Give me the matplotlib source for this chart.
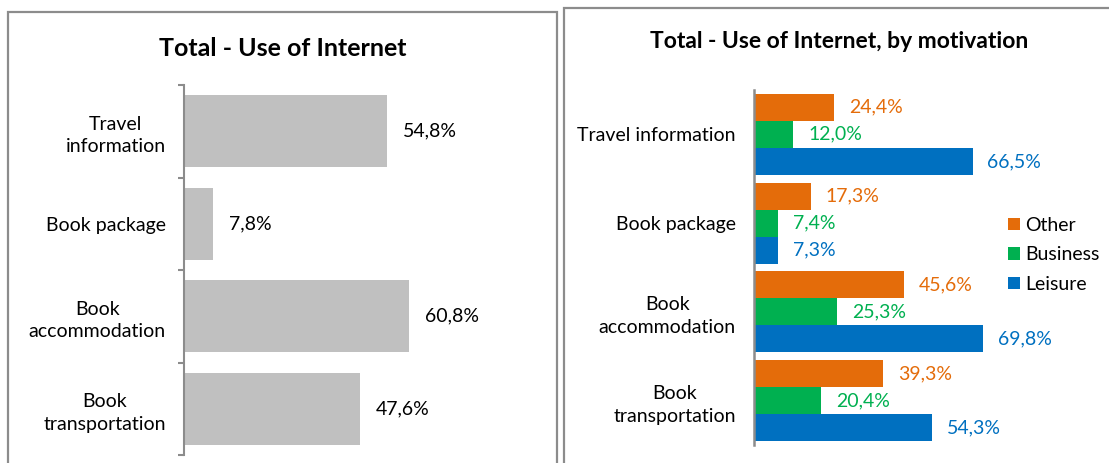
import matplotlib.pyplot as plt
from matplotlib.patches import Rectangle
from matplotlib.ticker import FixedLocator

plt.rcParams['font.family'] = ['Lato', 'DejaVu Sans']

# left chart
left_cats = ["Travel\ninformation", "Book package", "Book\naccommodation", "Book\ntransportation"]
left_vals = [54.8, 7.8, 60.8, 47.6]
left_labels = ["54,8%", "7,8%", "60,8%", "47,6%"]

# right chart
right_cats = ["Travel information", "Book package", "Book\naccommodation", "Book\ntransportation"]
series_names = ["Other", "Business", "Leisure"]
other = [24.4, 17.3, 45.6, 39.3]
business = [12.0, 7.4, 25.3, 20.4]
leisure = [66.5, 7.3, 69.8, 54.3]
colors = ["#E46C0A", "#00B050", "#0070C0"]

W, H = 1109, 463
fig = plt.figure(figsize=(W / 100, H / 100), dpi=100)

def fx(px):
    return px / W

def fy(py):
    return 1 - py / H

# panel borders
fig.add_artist(Rectangle((fx(7.5), fy(480)), fx(549), fy(12) - fy(480), transform=fig.transFigure,
                         fill=False, edgecolor="#8c8c8c", lw=1.6))
fig.add_artist(Rectangle((fx(564), fy(480)), fx(560), fy(7.5) - fy(480), transform=fig.transFigure,
                         fill=False, edgecolor="#8c8c8c", lw=1.6))

fs = 14

# ---- left
ax1 = fig.add_axes([fx(184), fy(455), fx(3.70 * 80), fy(85) - fy(455)])
y = list(range(len(left_cats)))
ax1.barh(y, left_vals, height=0.78, color="#C0C0C0")
for i, v in enumerate(left_vals):
    ax1.text(v + 4.3, i, left_labels[i], va="center", ha="left", fontsize=fs)
ax1.set_xlim(0, 80)
ax1.set_ylim(3.5, -0.5)
ax1.set_yticks(y)
ax1.set_yticklabels(left_cats, fontsize=fs)
for t in ax1.get_yticklabels():
    t.set_multialignment("center")
    t.set_linespacing(1.4)
ax1.yaxis.set_minor_locator(FixedLocator([-0.5, 0.5, 1.5, 2.5, 3.5]))
ax1.tick_params(axis="y", which="major", length=0, pad=13)
ax1.tick_params(axis="y", which="minor", length=4, color="#8c8c8c", width=1.5)
ax1.set_xticks([])
for s in ["top", "right", "bottom"]:
    ax1.spines[s].set_visible(False)
ax1.spines["left"].set_color("#8c8c8c")
ax1.spines["left"].set_linewidth(1.5)
ax1.patch.set_alpha(0)
fig.text(fx(283), fy(48), "Total - Use of Internet", ha="center", va="center",
         fontsize=18, fontweight="bold")

# ---- right
ax2 = fig.add_axes([fx(754), fy(445), fx(3.286 * 100), fy(90) - fy(445)])
bh = 0.305
for k, (name, vals) in enumerate(zip(series_names, [other, business, leisure])):
    pos = [i + (k - 1) * bh for i in range(len(vals))]
    ax2.barh(pos, vals, height=bh, color=colors[k], label=name)
    for p, v in zip(pos, vals):
        ax2.text(v + 4.5, p, f"{v:.1f}%".replace(".", ","), va="center", ha="left",
                 fontsize=fs, color=colors[k])
ax2.set_xlim(0, 100)
ax2.set_ylim(3.5, -0.5)
ax2.set_yticks(range(len(right_cats)))
ax2.set_yticklabels(right_cats, fontsize=fs)
for t in ax2.get_yticklabels():
    t.set_multialignment("center")
    t.set_linespacing(1.4)
ax2.tick_params(axis="y", length=0, pad=13)
ax2.set_xticks([])
for s in ["top", "right", "bottom"]:
    ax2.spines[s].set_visible(False)
ax2.spines["left"].set_color("#8c8c8c")
ax2.spines["left"].set_linewidth(1.8)
ax2.patch.set_alpha(0)
ax2.legend(loc="center left", bbox_to_anchor=(fx(1008), fy(255)), bbox_transform=fig.transFigure,
           frameon=False, fontsize=fs, handlelength=0.6, handleheight=0.6, handletextpad=0.3,
           labelspacing=0.65, borderpad=0, borderaxespad=0)
fig.text(fx(839), fy(41), "Total - Use of Internet, by motivation", ha="center", va="center",
         fontsize=16.5, fontweight="bold")

fig.savefig("out.png", dpi=100)
